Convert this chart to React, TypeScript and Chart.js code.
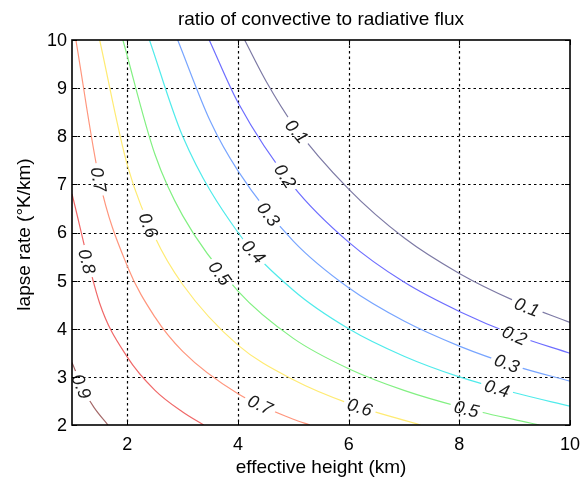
import React, { useEffect, useRef } from "react";
import { Chart, registerables } from "chart.js";

Chart.register(...registerables);

const chartTitle = "ratio of convective to radiative flux";
const xAxisTitle = "effective height (km)";
const yAxisTitle = "lapse rate (°K/km)";

const xMin = 1;
const xMax = 10;
const yMin = 2;
const yMax = 10;
const xTickValues = [2, 4, 6, 8, 10];
const yTickValues = [2, 3, 4, 5, 6, 7, 8, 9, 10];

const contourLevels = ["0.1", "0.2", "0.3", "0.4", "0.5", "0.6", "0.7", "0.8", "0.9"];
const contourColors = [
  "rgb(125,122,165)",
  "rgb(110,110,255)",
  "rgb(120,165,255)",
  "rgb(80,235,235)",
  "rgb(130,240,130)",
  "rgb(255,235,115)",
  "rgb(255,150,125)",
  "rgb(240,105,105)",
  "rgb(165,105,105)",
];

// contour lines: [effective height, lapse rate]
const contour01: [number, number][] = [[4.12, 10], [4.5, 9.16], [5, 8.24], [6, 6.9], [7, 5.89], [8, 5.15], [9, 4.58], [10, 4.13]];
const contour02: [number, number][] = [[3.48, 10], [4, 8.7], [5, 6.96], [6, 5.8], [7, 4.97], [8, 4.36], [9, 3.87], [10, 3.49]];
const contour03: [number, number][] = [[2.91, 10], [3.5, 8.31], [4, 7.28], [5, 5.82], [6, 4.85], [7, 4.16], [8, 3.64], [9, 3.23], [10, 2.91]];
const contour04: [number, number][] = [[2.4, 10], [3, 8.0], [4, 6.0], [5, 4.8], [6, 4.0], [7, 3.43], [8, 3.0], [9, 2.67], [10, 2.39]];
const contour05: [number, number][] = [[1.92, 10], [2.5, 7.62], [3, 6.35], [4, 4.78], [5, 3.8], [6, 3.17], [7, 2.72], [8, 2.38], [9, 2.11], [9.45, 2.0]];
const contour06: [number, number][] = [[1.5, 10], [2, 7.4], [2.5, 5.9], [3, 4.92], [4, 3.66], [5, 2.94], [6, 2.45], [7.3, 2.0]];
const contour07: [number, number][] = [[1.07, 10], [1.5, 7.07], [2, 5.3], [2.5, 4.24], [3, 3.53], [4, 2.65], [5, 2.12], [5.3, 2.0]];
const contour08: [number, number][] = [[1.0, 6.8], [1.5, 4.53], [2, 3.41], [2.5, 2.72], [3, 2.27], [3.38, 2.0]];
const contour09: [number, number][] = [[1.0, 3.3], [1.2, 2.75], [1.4, 2.36], [1.65, 2.0]];

const contours = [contour01, contour02, contour03, contour04, contour05, contour06, contour07, contour08, contour09];

// inline contour labels
const labelLevelIndex = [0, 0, 1, 1, 2, 2, 3, 3, 4, 4, 5, 5, 6, 6, 7, 8];
const labelXs = [5.06, 9.22, 4.85, 9.0, 4.55, 8.86, 4.28, 8.68, 3.67, 8.13, 2.38, 6.2, 1.48, 4.4, 1.27, 1.17];
const labelYs = [8.1, 4.45, 7.17, 3.86, 6.38, 3.28, 5.6, 2.76, 5.15, 2.33, 6.15, 2.37, 7.1, 2.42, 5.4, 2.8];

const FONT = '"Liberation Sans", Arial, Helvetica, sans-serif';
const LABEL_FONT = `italic 18px ${FONT}`;

function labelGeometry(chart: any, i: number) {
  const xs = chart.scales.x;
  const ys = chart.scales.y;
  const pts = contours[labelLevelIndex[i]];
  const lx = labelXs[i];
  let j = 0;
  while (j < pts.length - 2 && pts[j + 1][0] < lx) j++;
  const p1x = xs.getPixelForValue(pts[j][0]);
  const p1y = ys.getPixelForValue(pts[j][1]);
  const p2x = xs.getPixelForValue(pts[j + 1][0]);
  const p2y = ys.getPixelForValue(pts[j + 1][1]);
  let ang = Math.atan2(p2y - p1y, p2x - p1x);
  if (ang > Math.PI / 2) ang -= Math.PI;
  if (ang < -Math.PI / 2) ang += Math.PI;
  return { cx: xs.getPixelForValue(lx), cy: ys.getPixelForValue(labelYs[i]), ang };
}

const overlay = {
  id: "overlay",
  beforeDatasetsDraw(chart: any) {
    const { ctx, chartArea: a, scales } = chart;
    const xs = scales.x;
    const ys = scales.y;
    ctx.save();
    ctx.strokeStyle = "#000";
    ctx.lineWidth = 1.2;
    ctx.setLineDash([2.5, 3]);
    xTickValues.forEach((v) => {
      if (v <= xMin || v >= xMax) return;
      const px = Math.round(xs.getPixelForValue(v)) + 0.5;
      ctx.beginPath();
      ctx.moveTo(px, a.top);
      ctx.lineTo(px, a.bottom);
      ctx.stroke();
    });
    yTickValues.forEach((v) => {
      if (v <= yMin || v >= yMax) return;
      const py = Math.round(ys.getPixelForValue(v)) + 0.5;
      ctx.beginPath();
      ctx.moveTo(a.left, py);
      ctx.lineTo(a.right, py);
      ctx.stroke();
    });
    ctx.restore();

    // cut gaps in contour lines where labels sit
    ctx.save();
    ctx.font = LABEL_FONT;
    ctx.beginPath();
    ctx.rect(a.left, a.top, a.width, a.height);
    labelXs.forEach((_, i) => {
      const { cx, cy, ang } = labelGeometry(chart, i);
      const w = ctx.measureText(contourLevels[labelLevelIndex[i]]).width / 2 + 4;
      const h = 6;
      const c = Math.cos(ang);
      const s = Math.sin(ang);
      const corners = [
        [-w, -h],
        [-w, h],
        [w, h],
        [w, -h],
      ].map(([u, v]) => [cx + u * c - v * s, cy + u * s + v * c]);
      ctx.moveTo(corners[0][0], corners[0][1]);
      for (let k = 1; k < 4; k++) ctx.lineTo(corners[k][0], corners[k][1]);
      ctx.closePath();
    });
    ctx.clip("evenodd");
  },
  afterDatasetsDraw(chart: any) {
    const { ctx } = chart;
    ctx.restore();
    ctx.save();
    ctx.font = LABEL_FONT;
    ctx.fillStyle = "#1a1a1a";
    ctx.textAlign = "center";
    ctx.textBaseline = "middle";
    labelXs.forEach((_, i) => {
      const { cx, cy, ang } = labelGeometry(chart, i);
      ctx.save();
      ctx.translate(cx, cy);
      ctx.rotate(ang);
      ctx.fillText(contourLevels[labelLevelIndex[i]], 0, 1);
      ctx.restore();
    });
    ctx.restore();
  },
  afterDraw(chart: any) {
    const { ctx, chartArea: a, scales } = chart;
    const xs = scales.x;
    const ys = scales.y;
    ctx.save();
    // ticks (inward, all four sides)
    ctx.strokeStyle = "#000";
    ctx.lineWidth = 1;
    const tl = 5;
    xTickValues.forEach((v) => {
      const px = Math.round(xs.getPixelForValue(v)) + 0.5;
      ctx.beginPath();
      ctx.moveTo(px, a.bottom);
      ctx.lineTo(px, a.bottom - tl);
      ctx.moveTo(px, a.top);
      ctx.lineTo(px, a.top + tl);
      ctx.stroke();
    });
    yTickValues.forEach((v) => {
      const py = Math.round(ys.getPixelForValue(v)) + 0.5;
      ctx.beginPath();
      ctx.moveTo(a.left, py);
      ctx.lineTo(a.left + tl, py);
      ctx.moveTo(a.right, py);
      ctx.lineTo(a.right - tl, py);
      ctx.stroke();
    });
    // frame
    ctx.lineWidth = 1.6;
    ctx.strokeRect(a.left, a.top, a.width, a.height);

    // tick labels
    ctx.fillStyle = "#000";
    ctx.font = `18px ${FONT}`;
    ctx.textAlign = "center";
    ctx.textBaseline = "alphabetic";
    xTickValues.forEach((v) => {
      ctx.fillText(String(v), xs.getPixelForValue(v), a.bottom + 25);
    });
    ctx.textAlign = "right";
    ctx.textBaseline = "middle";
    yTickValues.forEach((v) => {
      ctx.fillText(String(v), a.left - 5, ys.getPixelForValue(v) + 1);
    });

    // titles
    ctx.font = `19px ${FONT}`;
    ctx.textAlign = "center";
    ctx.textBaseline = "alphabetic";
    ctx.fillText(chartTitle, (a.left + a.right) / 2, 25);
    ctx.fillText(xAxisTitle, (a.left + a.right) / 2, 473);
    ctx.save();
    ctx.translate(30, (a.top + a.bottom) / 2 + 2);
    ctx.rotate(-Math.PI / 2);
    ctx.fillText(yAxisTitle, 0, 0);
    ctx.restore();
    ctx.restore();
  },
};

export default function App() {
  const ref = useRef<HTMLCanvasElement>(null);
  useEffect(() => {
    document.body.style.margin = "0";
    const canvas = ref.current;
    if (!canvas) return;
    const chart = new Chart(canvas, {
      type: "scatter",
      data: {
        datasets: contours.map((pts, i) => ({
          label: contourLevels[i],
          data: pts.map(([x, y]) => ({ x, y })),
          showLine: true,
          borderColor: contourColors[i],
          backgroundColor: contourColors[i],
          borderWidth: 1.2,
          pointRadius: 0,
          pointHoverRadius: 0,
          fill: false,
          tension: 0.4,
          cubicInterpolationMode: "monotone" as const,
        })),
      },
      options: {
        responsive: false,
        animation: false,
        devicePixelRatio: 1,
        events: [],
        layout: { padding: { left: 72, right: 13, top: 40, bottom: 53 } },
        plugins: {
          legend: { display: false },
          tooltip: { enabled: false },
          title: { display: false },
        },
        scales: {
          x: { type: "linear", min: xMin, max: xMax, display: false },
          y: { type: "linear", min: yMin, max: yMax, display: false },
        },
      },
      plugins: [overlay],
    });
    return () => chart.destroy();
  }, []);
  return <canvas ref={ref} width={583} height={478} style={{ display: "block" }} />;
}
